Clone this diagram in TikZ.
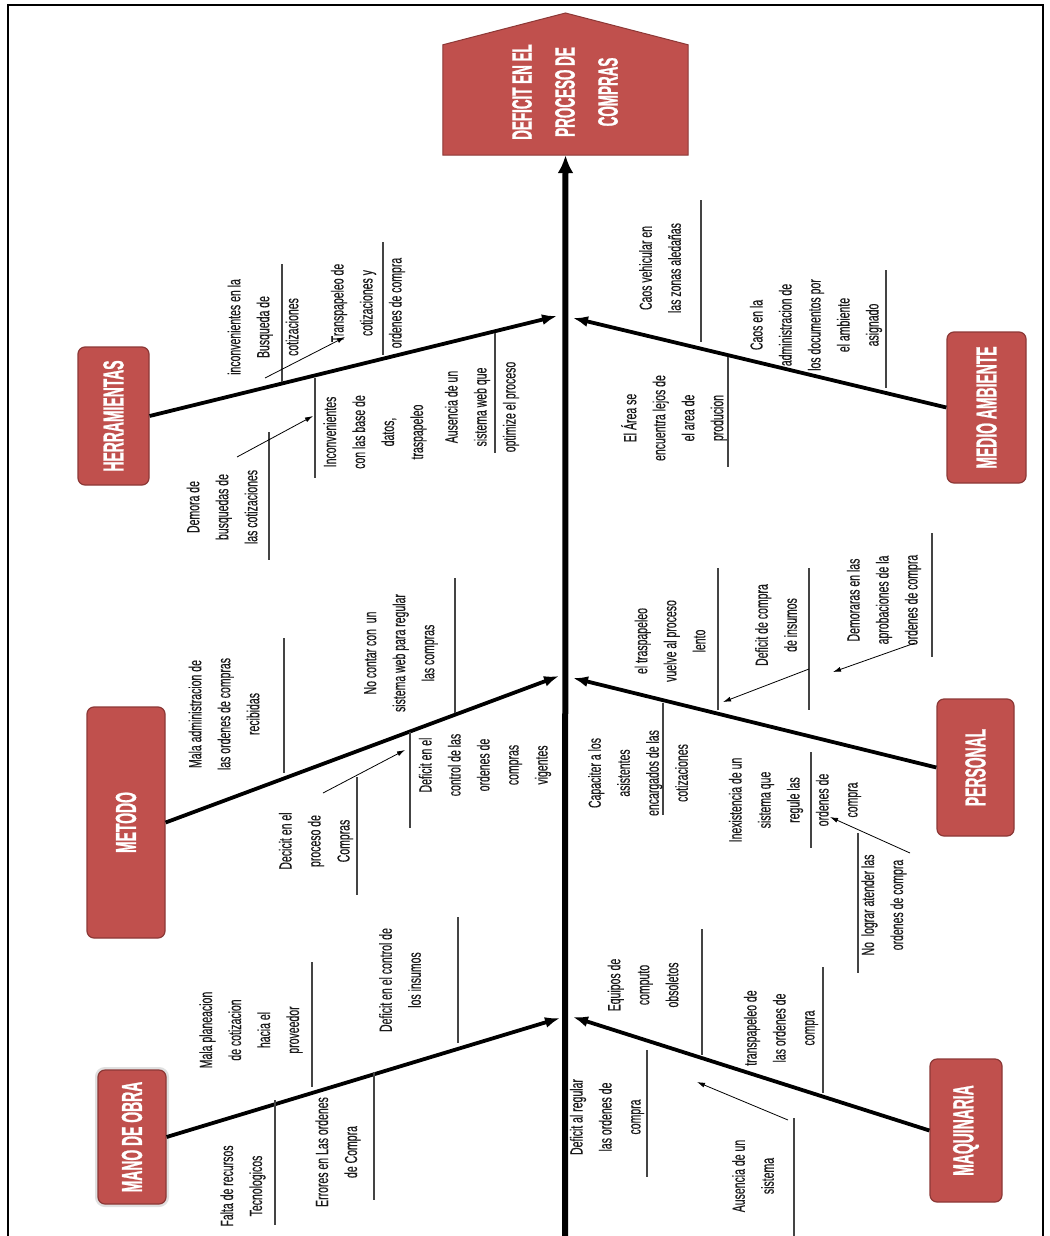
\documentclass[tikz,border=0pt]{standalone}
\usepackage{fontspec}
\setmainfont{Liberation Sans}
\newfontfamily\lblfont[FakeStretch=0.6,FakeBold=0.25]{Liberation Sans}
\newfontfamily\hdfont[FakeStretch=0.48,FakeBold=0.8]{Liberation Sans}
\usetikzlibrary{arrows.meta,calc}
\definecolor{boxred}{HTML}{C0504D}
\definecolor{boxedge}{HTML}{8C3836}
\definecolor{subline}{HTML}{444444}
\begin{document}
\begin{tikzpicture}[x=1pt,y=-1pt,
  cat/.style={draw=boxedge, line width=1.2pt, fill=boxred, rounded corners=7pt, text=white,
    font=\hdfont\bfseries\fontsize{29}{34}\selectfont, inner sep=0pt},
  lbl/.style={rotate=90, align=center, font=\lblfont\fontsize{17.5}{29}\selectfont, text=black!90, inner sep=0pt},
  headtxt/.style={rotate=90, align=center, text=white, font=\hdfont\bfseries\fontsize{28}{43}\selectfont, inner sep=0pt},
  sub/.style={draw=subline, line width=1.3pt},
  bone/.style={line width=3.8pt, -{Latex[length=15pt,width=11pt]}},
  spinestyle/.style={line width=6pt, -{Latex[length=18pt,width=16pt]}},
  thinarrow/.style={line width=0.8pt, -{Latex[length=8pt,width=5pt]}}]
\useasboundingbox (0,0) rectangle (1049,1236);
\fill[white] (0,0) rectangle (1049,1236);
% frame
\draw[line width=1.2pt] (8,1236) -- (8,5) -- (1043,5) -- (1043,1236);

% head
\node[minimum width=245pt, minimum height=110pt, inner sep=0pt] (head) at (565.5,100) {};
\filldraw[fill=boxred, draw=boxedge, line width=1pt] (head.south west) -- (head.north west) -- (565.5,13) -- (head.north east) -- (head.south east) -- cycle;
\node[headtxt] (headlabel) at (565,92) {DEFICIT EN EL\\PROCESO DE\\COMPRAS};

% spine
\coordinate (spinebot) at (565,1236);
\draw[spinestyle] (spinebot) -- (head.south);

% category boxes
\node[cat, minimum width=71pt, minimum height=138pt] (herr) at (113.5,416) {\rotatebox{90}{HERRAMIENTAS}};
\node[cat, minimum width=79pt, minimum height=151pt] (medio) at (986.5,407.5) {\rotatebox{90}{MEDIO AMBIENTE}};
\node[cat, minimum width=78pt, minimum height=231pt] (metodo) at (126,822.5) {\rotatebox{90}{METODO}};
\node[cat, minimum width=77pt, minimum height=137pt] (personal) at (975.5,767.5) {\rotatebox{90}{PERSONAL}};
\node[cat, minimum width=68pt, minimum height=134pt, preaction={draw=black!12, line width=6pt}] (mano) at (132,1137) {\rotatebox{90}{MANO DE OBRA}};
\node[cat, minimum width=72pt, minimum height=143pt] (maq) at (966,1130.5) {\rotatebox{90}{MAQUINARIA}};

% spine junctions
\coordinate (jherr) at (557,316);
\coordinate (jmedio) at (573,318);
\coordinate (jmetodo) at (559,676);
\coordinate (jpersonal) at (573,678);
\coordinate (jmano) at (560,1018);
\coordinate (jmaq) at (573,1017);

\draw[bone] (herr.east) -- (jherr);
\draw[bone] (medio.west) -- (jmedio);
\draw[bone] (metodo.east) -- (jmetodo);
\draw[bone] (personal.west) -- (jpersonal);
\draw[bone] (mano.east) -- (jmano);
\draw[bone] (maq.west) -- (jmaq);

% sub-cause lines
\foreach \x/\ya/\yb in {282/264/382, 383/242/355, 315/378/478, 269/432/560, 495/333/453,
  701/200/342, 886/270/388, 728/357/467,
  284/638/773, 357/777/895, 410/732/828, 455/578/713,
  718/568/710, 809/568/710, 932/533/657, 663/703/815, 811/752/848, 858/833/973,
  312/962/1087, 275/1100/1225, 374/1072/1200, 458/917/1043,
  702/929/1055, 823/967/1093, 647/1050/1177, 794/1118/1236}
  \draw[sub] (\x,\ya) -- (\x,\yb);

% labels
\node[lbl] (t1) at (263,327) {inconvenientes en la\\Busqueda de\\cotizaciones};
\node[lbl] (t2) at (368,303) {Transpapeleo de\\cotizaciones y\\ordenes de compra};
\node[lbl] (t3) at (375,432) {Inconvenientes\\con las base de\\datos,\\traspapeleo};
\node[lbl] (t4) at (222,507) {Demora de\\busquedas de\\las cotizaciones};
\node[lbl] (t5) at (482,407) {Ausencia de un\\sistema web que\\optimize el proceso};
\node[lbl] (t6) at (660,268) {Caos vehicular en\\las zonas aledañas};
\node[lbl] (t7) at (816,325) {Caos en la\\administracion de\\los documentos por\\el ambiente\\asignado};
\node[lbl] (t8) at (674,418) {El Área se\\encuentra lejos de\\el area de\\producion};
\node[lbl] (t9) at (224,714) {Mala administracion de\\las ordenes de compras\\recibidas};
\node[lbl] (t10) at (316,841) {Decicit en el\\proceso de\\Compras};
\node[lbl] (t11) at (485,765) {Deficit en el\\control de las\\ordenes de\\compras\\vigentes};
\node[lbl] (t12) at (401,653) {No contar con \ un\\sistema web para regular\\las compras};
\node[lbl] (t13) at (670,641) {el traspapeleo\\vuelve al proceso\\lento};
\node[lbl] (t14) at (776,625) {Deficit de compra\\de insumos};
\node[lbl] (t15) at (884,600) {Demoraras en las\\aprobaciones de la\\ordenes de compra};
\node[lbl] (t16) at (638,773) {Capaciter a los\\asistentes\\encargados de las\\cotizaciones};
\node[lbl] (t17) at (795,800) {Inexistencia de un\\sistema que\\regule las\\ordenes de\\compra};
\node[lbl] (t18) at (884,905) {No \ lograr atender las\\ordenes de compra};
\node[lbl] (t19) at (251,1030) {Mala planeacion\\de cotizacion\\hacia el\\proveedor};
\node[lbl] (t20) at (243,1186) {Falta de recursos\\Tecnologicos};
\node[lbl] (t21) at (338,1152) {Errores en Las ordenes\\de Compra};
\node[lbl] (t22) at (400,980) {Deficit en el control de\\los insumos};
\node[lbl] (t23) at (643,985) {Equipos de\\computo\\obsoletos};
\node[lbl] (t24) at (781,1028) {transpapeleo de\\las ordenes de\\compra};
\node[lbl] (t25) at (607,1117) {Deficit al regular\\las ordenes de\\compra};
\node[lbl] (t26) at (753,1176) {Ausencia de un\\sistema};

% thin arrows
\coordinate (a1s) at (265,378); \coordinate (a1e) at (345,337);
\coordinate (a2s) at (237,457); \coordinate (a2e) at (313,416);
\coordinate (a3s) at (323,793); \coordinate (a3e) at (405,750);
\coordinate (a4s) at (809,669); \coordinate (a4e) at (723,702);
\coordinate (a5s) at (915,643); \coordinate (a5e) at (833,672);
\coordinate (a6s) at (910,853); \coordinate (a6e) at (830,817);
\coordinate (a7s) at (788,1120); \coordinate (a7e) at (697,1082);
\foreach \i in {1,...,7} \draw[thinarrow] (a\i s) -- (a\i e);
\end{tikzpicture}
\end{document}
